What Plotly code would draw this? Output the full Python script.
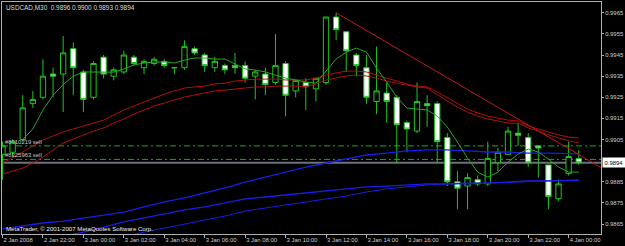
import plotly.graph_objects as go
import pandas as pd

# ---------------- data ----------------
symbol_text = "USDCAD,M30  0.9896 0.9900 0.9893 0.9894"
copyright_text = "MetaTrader, © 2001-2007 MetaQuotes Software Corp."

bar_start = "2008-01-02 20:00"
n_bars = 58

opens = [0.9898, 0.9899, 0.9905, 0.9922, 0.9925, 0.9936, 0.9936, 0.9948, 0.9937, 0.9925,
         0.9944, 0.9935, 0.9937, 0.9944, 0.9939, 0.9941, 0.9942, 0.9939, 0.9939, 0.9948,
         0.9945, 0.9939, 0.9940, 0.9940, 0.9940, 0.9935, 0.9936, 0.9932, 0.9941, 0.9928,
         0.9932, 0.9929, 0.9932, 0.9963, 0.9956, 0.9945, 0.9939, 0.9923, 0.9927, 0.9925,
         0.9913, 0.9909, 0.9922, 0.9922, 0.9906, 0.9885, 0.9883, 0.9886, 0.9884, 0.9894,
         0.9898, 0.9908, 0.9906, 0.9902, 0.9893, 0.9877, 0.9889, 0.9896]
highs = [0.9904, 0.9905, 0.9926, 0.9928, 0.9943, 0.9939, 0.9954, 0.9951, 0.9938, 0.9942,
         0.9945, 0.9939, 0.9947, 0.9945, 0.9943, 0.9944, 0.9943, 0.9939, 0.9952, 0.9949,
         0.9946, 0.9944, 0.9941, 0.9946, 0.9942, 0.9938, 0.9939, 0.9955, 0.9942, 0.9933,
         0.9934, 0.9934, 0.9963, 0.9965, 0.9956, 0.9946, 0.9945, 0.9949, 0.9932, 0.9926,
         0.9914, 0.9932, 0.9926, 0.9923, 0.9908, 0.9890, 0.9889, 0.9888, 0.9904, 0.9901,
         0.9911, 0.9913, 0.9908, 0.9902, 0.9893, 0.9886, 0.9904, 0.9900]
lows = [0.9886, 0.9897, 0.9904, 0.9920, 0.9924, 0.9925, 0.9918, 0.9926, 0.9918, 0.9924,
        0.9934, 0.9933, 0.9936, 0.9940, 0.9936, 0.9940, 0.9939, 0.9936, 0.9938, 0.9945,
        0.9937, 0.9937, 0.9936, 0.9936, 0.9932, 0.9924, 0.9926, 0.9931, 0.9916, 0.9925,
        0.9919, 0.9923, 0.9931, 0.9952, 0.9937, 0.9935, 0.9922, 0.9917, 0.9913, 0.9894,
        0.9899, 0.9908, 0.9911, 0.9894, 0.9883, 0.9872, 0.9872, 0.9883, 0.9883, 0.9890,
        0.9898, 0.9902, 0.9892, 0.9887, 0.9872, 0.9876, 0.9888, 0.9893]
closes = [0.9902, 0.9904, 0.9920, 0.9924, 0.9935, 0.9935, 0.9946, 0.9939, 0.9924, 0.9941,
          0.9936, 0.9938, 0.9945, 0.9941, 0.9942, 0.9943, 0.9940, 0.9939, 0.9949, 0.9946,
          0.9940, 0.9942, 0.9938, 0.9939, 0.9934, 0.9937, 0.9931, 0.9940, 0.9926, 0.9933,
          0.9930, 0.9934, 0.9963, 0.9957, 0.9947, 0.9940, 0.9925, 0.9928, 0.9923, 0.9912,
          0.9910, 0.9923, 0.9921, 0.9904, 0.9885, 0.9882, 0.9887, 0.9884, 0.9896, 0.9899,
          0.9909, 0.9907, 0.9894, 0.9901, 0.9878, 0.9884, 0.9897, 0.9894]

# fast green moving average (bars 2..57)
ma_fast_start = 2
ma_fast = [0.99050, 0.99100, 0.99190, 0.99260, 0.99310, 0.99350, 0.99370, 0.99370, 0.99370,
           0.99369, 0.99384, 0.99403, 0.99412, 0.99417, 0.99417, 0.99412, 0.99426, 0.99436,
           0.99436, 0.99431, 0.99431, 0.99407, 0.99384, 0.99379, 0.99370, 0.99355, 0.99341,
           0.99332, 0.99322, 0.99317, 0.99374, 0.99431, 0.99464, 0.99483, 0.99464, 0.99388,
           0.99322, 0.99251, 0.99199, 0.99194, 0.99190, 0.99161, 0.99109, 0.99038, 0.98962,
           0.98896, 0.98872, 0.98896, 0.98943, 0.98981, 0.99005, 0.98991, 0.98958, 0.98920,
           0.98896, 0.98896]

# two slow red moving averages (bars 0..57)
ma_slow_1 = [0.98939, 0.98963, 0.98991, 0.99020, 0.99048, 0.99067, 0.99086, 0.99100, 0.99114,
             0.99128, 0.99142, 0.99166, 0.99190, 0.99209, 0.99228, 0.99247, 0.99265, 0.99280,
             0.99294, 0.99299, 0.99303, 0.99313, 0.99317, 0.99327, 0.99332, 0.99336, 0.99336,
             0.99336, 0.99332, 0.99332, 0.99332, 0.99341, 0.99355, 0.99365, 0.99374, 0.99374,
             0.99370, 0.99355, 0.99341, 0.99327, 0.99313, 0.99303, 0.99299, 0.99275, 0.99247,
             0.99218, 0.99194, 0.99176, 0.99161, 0.99152, 0.99142, 0.99138, 0.99114, 0.99100,
             0.99086, 0.99072, 0.99062, 0.99057]
ma_slow_2 = [0.98887, 0.98901, 0.98915, 0.98939, 0.98967, 0.99001, 0.99034, 0.99053, 0.99072,
             0.99090, 0.99105, 0.99128, 0.99147, 0.99171, 0.99190, 0.99209, 0.99223, 0.99237,
             0.99251, 0.99261, 0.99270, 0.99280, 0.99284, 0.99289, 0.99294, 0.99299, 0.99299,
             0.99303, 0.99303, 0.99303, 0.99299, 0.99313, 0.99332, 0.99341, 0.99351, 0.99355,
             0.99351, 0.99341, 0.99327, 0.99317, 0.99308, 0.99299, 0.99294, 0.99261, 0.99232,
             0.99204, 0.99180, 0.99161, 0.99147, 0.99138, 0.99128, 0.99128, 0.99105, 0.99090,
             0.99072, 0.99058, 0.99044, 0.99034]

# blue long-period lines, sampled every second bar
blue_bars = list(range(0, 57, 2)) + [57]
blue_1 = [0.98627, 0.98641, 0.98655, 0.98664, 0.98679, 0.98693, 0.98707, 0.98731, 0.98755,
          0.98774, 0.98797, 0.98821, 0.98849, 0.98873, 0.98897, 0.98920, 0.98939, 0.98958,
          0.98977, 0.98986, 0.98996, 0.99001, 0.99001, 0.98996, 0.98991, 0.98991, 0.98986,
          0.98986, 0.98982, 0.98982]
blue_2 = [0.98537, 0.98556, 0.98575, 0.98593, 0.98612, 0.98636, 0.98660, 0.98679, 0.98698,
          0.98717, 0.98731, 0.98750, 0.98769, 0.98778, 0.98788, 0.98797, 0.98807, 0.98816,
          0.98826, 0.98830, 0.98835, 0.98840, 0.98840, 0.98844, 0.98844, 0.98849, 0.98854,
          0.98854, 0.98859, 0.98859]
blue_3_bars = list(range(10, 57, 2)) + [57]
blue_3 = [0.98570, 0.98589, 0.98612, 0.98631, 0.98650, 0.98669, 0.98688, 0.98712, 0.98726,
          0.98740, 0.98755, 0.98769, 0.98783, 0.98802, 0.98816, 0.98826, 0.98835, 0.98840,
          0.98840, 0.98844, 0.98846, 0.98851, 0.98854, 0.98856, 0.98856]

# trend line anchors (bar index, price)
trend_bars = [33, 57]
trend_prices = [0.99650, 0.98979]
trend_extend_to = 62

# order lines and bid
order_prices = [0.99020, 0.98956]
order_labels = ["#8310219 sell", "#8325963 sell"]
bid_price = 0.9894
bid_label = "0.9894"

y_tick_labels = ["0.9865", "0.9875", "0.9885", "0.9905", "0.9915",
                 "0.9925", "0.9935", "0.9945", "0.9955", "0.9965"]
y_range = [0.98603, 0.99701]
x_tick_times = ["2008-01-02 20:00", "2008-01-02 22:00", "2008-01-03 00:00", "2008-01-03 02:00",
                "2008-01-03 04:00", "2008-01-03 06:00", "2008-01-03 08:00", "2008-01-03 10:00",
                "2008-01-03 12:00", "2008-01-03 14:00", "2008-01-03 16:00", "2008-01-03 18:00",
                "2008-01-03 20:00", "2008-01-03 22:00", "2008-01-04 00:00"]
x_tick_labels = ["2 Jan 2008", "2 Jan 22:00", "3 Jan 00:00", "3 Jan 02:00", "3 Jan 04:00",
                 "3 Jan 06:00", "3 Jan 08:00", "3 Jan 10:00", "3 Jan 12:00", "3 Jan 14:00",
                 "3 Jan 16:00", "3 Jan 18:00", "3 Jan 20:00", "3 Jan 22:00", "4 Jan 00:00"]

# ---------------- build ----------------
bar = pd.Timedelta(minutes=30)
t0 = pd.Timestamp(bar_start)
times = [t0 + i * bar for i in range(n_bars)]
def bt(i):
    return t0 + i * bar

FONT = "Liberation Sans, Arial, sans-serif"
FS = 5.9
CANDLE = "#22c322"

fig = go.Figure()
fig.add_trace(go.Candlestick(
    x=times, open=opens, high=highs, low=lows, close=closes,
    increasing=dict(line=dict(color=CANDLE, width=1), fillcolor="#000000"),
    decreasing=dict(line=dict(color=CANDLE, width=1), fillcolor="#ffffff"),
    whiskerwidth=0, hoverinfo="skip", showlegend=False))

def add_line(xs, ys, color, width=1):
    fig.add_trace(go.Scatter(x=xs, y=ys, mode="lines", line=dict(color=color, width=width),
                             hoverinfo="skip", showlegend=False))

add_line([bt(i) for i in blue_bars], blue_1, "#1c1ce8", 1.3)
add_line([bt(i) for i in blue_bars], blue_2, "#1c1ce8", 1.3)
add_line([bt(i) for i in blue_3_bars], blue_3, "#1c1ce8", 1.0)
add_line(times, ma_slow_1, "#b01010", 1)
add_line(times, ma_slow_2, "#b01010", 1)
add_line([bt(i) for i in range(ma_fast_start, n_bars)], ma_fast, "#23a823", 1)

slope = (trend_prices[1] - trend_prices[0]) / (trend_bars[1] - trend_bars[0])
trend_end = trend_prices[0] + slope * (trend_extend_to - trend_bars[0])
add_line([bt(trend_bars[0]), bt(trend_extend_to)], [trend_prices[0], trend_end], "#c41a1a", 1)

shapes = []
for p in order_prices:
    shapes.append(dict(type="line", xref="paper", x0=0, x1=1, yref="y", y0=p, y1=p,
                       line=dict(color="#10b010", width=1, dash="6px,3px,2px,3px"), layer="below"))
shapes.append(dict(type="line", xref="paper", x0=0, x1=1, yref="y", y0=bid_price, y1=bid_price,
                   line=dict(color="#6c717a", width=2), layer="below"))

annotations = [
    dict(text=symbol_text, xref="paper", yref="paper", x=0, y=1, xanchor="left", yanchor="top",
         xshift=2, yshift=0, showarrow=False, font=dict(family=FONT, size=6.4, color="#dcdcdc")),
    dict(text=copyright_text, xref="paper", yref="paper", x=0, y=0, xanchor="left", yanchor="bottom",
         xshift=2, yshift=0, showarrow=False, font=dict(family=FONT, size=6.1, color="#f0f0f0")),
    dict(text=bid_label, xref="paper", yref="y", x=1, y=bid_price, xanchor="left", yanchor="middle",
         xshift=1, showarrow=False, bgcolor="#ffffff", borderpad=1.5,
         font=dict(family=FONT, size=FS, color="#000000")),
]
for p, lab in zip(order_prices, order_labels):
    annotations.append(dict(text=lab, xref="paper", yref="y", x=0, y=p, xanchor="left",
                            yanchor="bottom", xshift=1, yshift=-1, showarrow=False,
                            font=dict(family=FONT, size=FS, color="#c8c8c8")))

fig.update_layout(
    width=625, height=246, margin=dict(l=2, r=24, t=2, b=12, autoexpand=False),
    paper_bgcolor="#000000", plot_bgcolor="#000000",
    showlegend=False, hovermode=False, boxgap=0.25,
    shapes=shapes, annotations=annotations,
    font=dict(family=FONT, size=FS, color="#c8c8c8"),
)
fig.update_xaxes(
    type="date", range=[bt(-0.05), bt(59.2)], rangeslider=dict(visible=False),
    automargin=False, tickangle=0,
    showgrid=False, zeroline=False, showline=True, mirror=True, linecolor="#b0b0b0", linewidth=1,
    ticks="outside", ticklen=3, tickcolor="#b0b0b0",
    tickvals=[pd.Timestamp(t) for t in x_tick_times], ticktext=x_tick_labels,
    ticklabelposition="outside right",
    tickfont=dict(family=FONT, size=FS, color="#d0d0d0"))
fig.update_yaxes(
    range=y_range, side="right", automargin=False,
    showgrid=False, zeroline=False, showline=True, mirror=True,
    linecolor="#b0b0b0", linewidth=1, ticks="outside", ticklen=2, tickcolor="#b0b0b0",
    tickvals=[float(v) for v in y_tick_labels], ticktext=y_tick_labels,
    tickfont=dict(family=FONT, size=FS, color="#d0d0d0"))

fig.write_html("out.html")
